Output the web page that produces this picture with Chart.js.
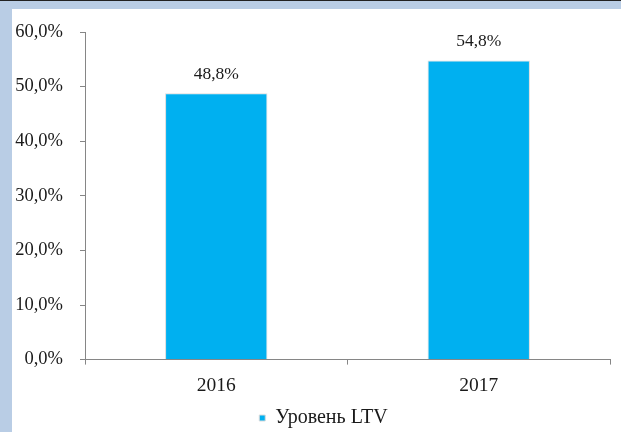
<!DOCTYPE html>
<html>
<head>
<meta charset="utf-8">
<script src="https://cdn.jsdelivr.net/npm/chart.js@4/dist/chart.umd.min.js"></script>
<style>
  html, body { margin:0; padding:0; width:621px; height:432px; overflow:hidden; background:#b9cde5; }
  #topline { position:absolute; left:0; top:0; width:621px; height:1px; background:#222; }
  #wrap { position:absolute; left:12px; top:9px; width:623px; height:423px; background:#fff; }
</style>
</head>
<body>
<div id="topline"></div>
<div id="wrap"><canvas id="chart" width="623" height="423"></canvas></div>
<script>
// values
const years = ['2016', '2017'];
const ltv = [0.488, 0.548];
const seriesName = 'Уровень LTV';
const yMax = 0.6, yStep = 0.1;

const FONT = '"Liberation Serif", "Times New Roman", serif';
const AXIS_GREY = '#868686';
const TEXT = '#1a1a1a';

function pct(v){ return (v*100).toFixed(1).replace('.', ',') + '%'; }

// labels above bars
const barLabels = {
  id:'barLabels',
  afterDatasetsDraw(chart){
    const ctx = chart.ctx;
    const meta = chart.getDatasetMeta(0);
    ctx.save();
    ctx.font = '17.5px ' + FONT;
    ctx.fillStyle = TEXT;
    ctx.textAlign = 'center';
    ctx.textBaseline = 'alphabetic';
    meta.data.forEach((bar, i)=>{
      ctx.fillText(pct(ltv[i]), bar.x, bar.y - 14);
    });
    ctx.restore();
  }
};

// legend sits a bit right of the plot's centre and low in the original
const legendShift = {
  id:'legendShift',
  afterLayout(chart){
    const lg = chart.legend;
    if(!lg) return;
    lg.left += 12.5;
    lg.right += 12.5;
    lg.top += 6;
    lg.bottom += 6;
  }
};

const chart = new Chart(document.getElementById('chart'), {
  type:'bar',
  data:{
    labels: years,
    datasets:[{
      label: seriesName,
      data: ltv,
      backgroundColor:'#00b0f0',
      borderColor:'#dcdcdc',
      borderWidth:1,
      categoryPercentage:1,
      barPercentage:0.39
    }]
  },
  options:{
    responsive:false,
    animation:false,
    layout:{ padding:{ top:23, right:25, bottom:0, left:0 } },
    plugins:{
      tooltip:{ enabled:false },
      legend:{
        position:'bottom',
        labels:{
          usePointStyle:true,
          pointStyle:'rect',
          boxWidth:6, boxHeight:6,
          color:TEXT,
          font:{ family:FONT, size:20 },
          padding:4
        }
      }
    },
    scales:{
      x:{
        grid:{ offset:true, drawOnChartArea:false, drawTicks:true, tickLength:5, color:AXIS_GREY },
        border:{ display:true, color:AXIS_GREY },
        ticks:{ color:TEXT, font:{ family:FONT, size:19.5 }, padding:10 },
        afterFit(scale){ scale.height = 38.4; scale.paddingLeft = 0; scale.paddingRight = 0; }
      },
      y:{
        min:0, max:yMax,
        grid:{ drawOnChartArea:false, drawTicks:true, tickLength:5, color:AXIS_GREY },
        border:{ display:true, color:AXIS_GREY },
        ticks:{ stepSize:yStep, color:TEXT, font:{ family:FONT, size:18.5 }, padding:17,
          callback:(v)=> pct(v) },
        afterFit(scale){ scale.width = 73; scale.paddingTop = 0; scale.paddingBottom = 0; }
      }
    }
  },
  plugins:[barLabels, legendShift]
});
</script>
</body>
</html>
